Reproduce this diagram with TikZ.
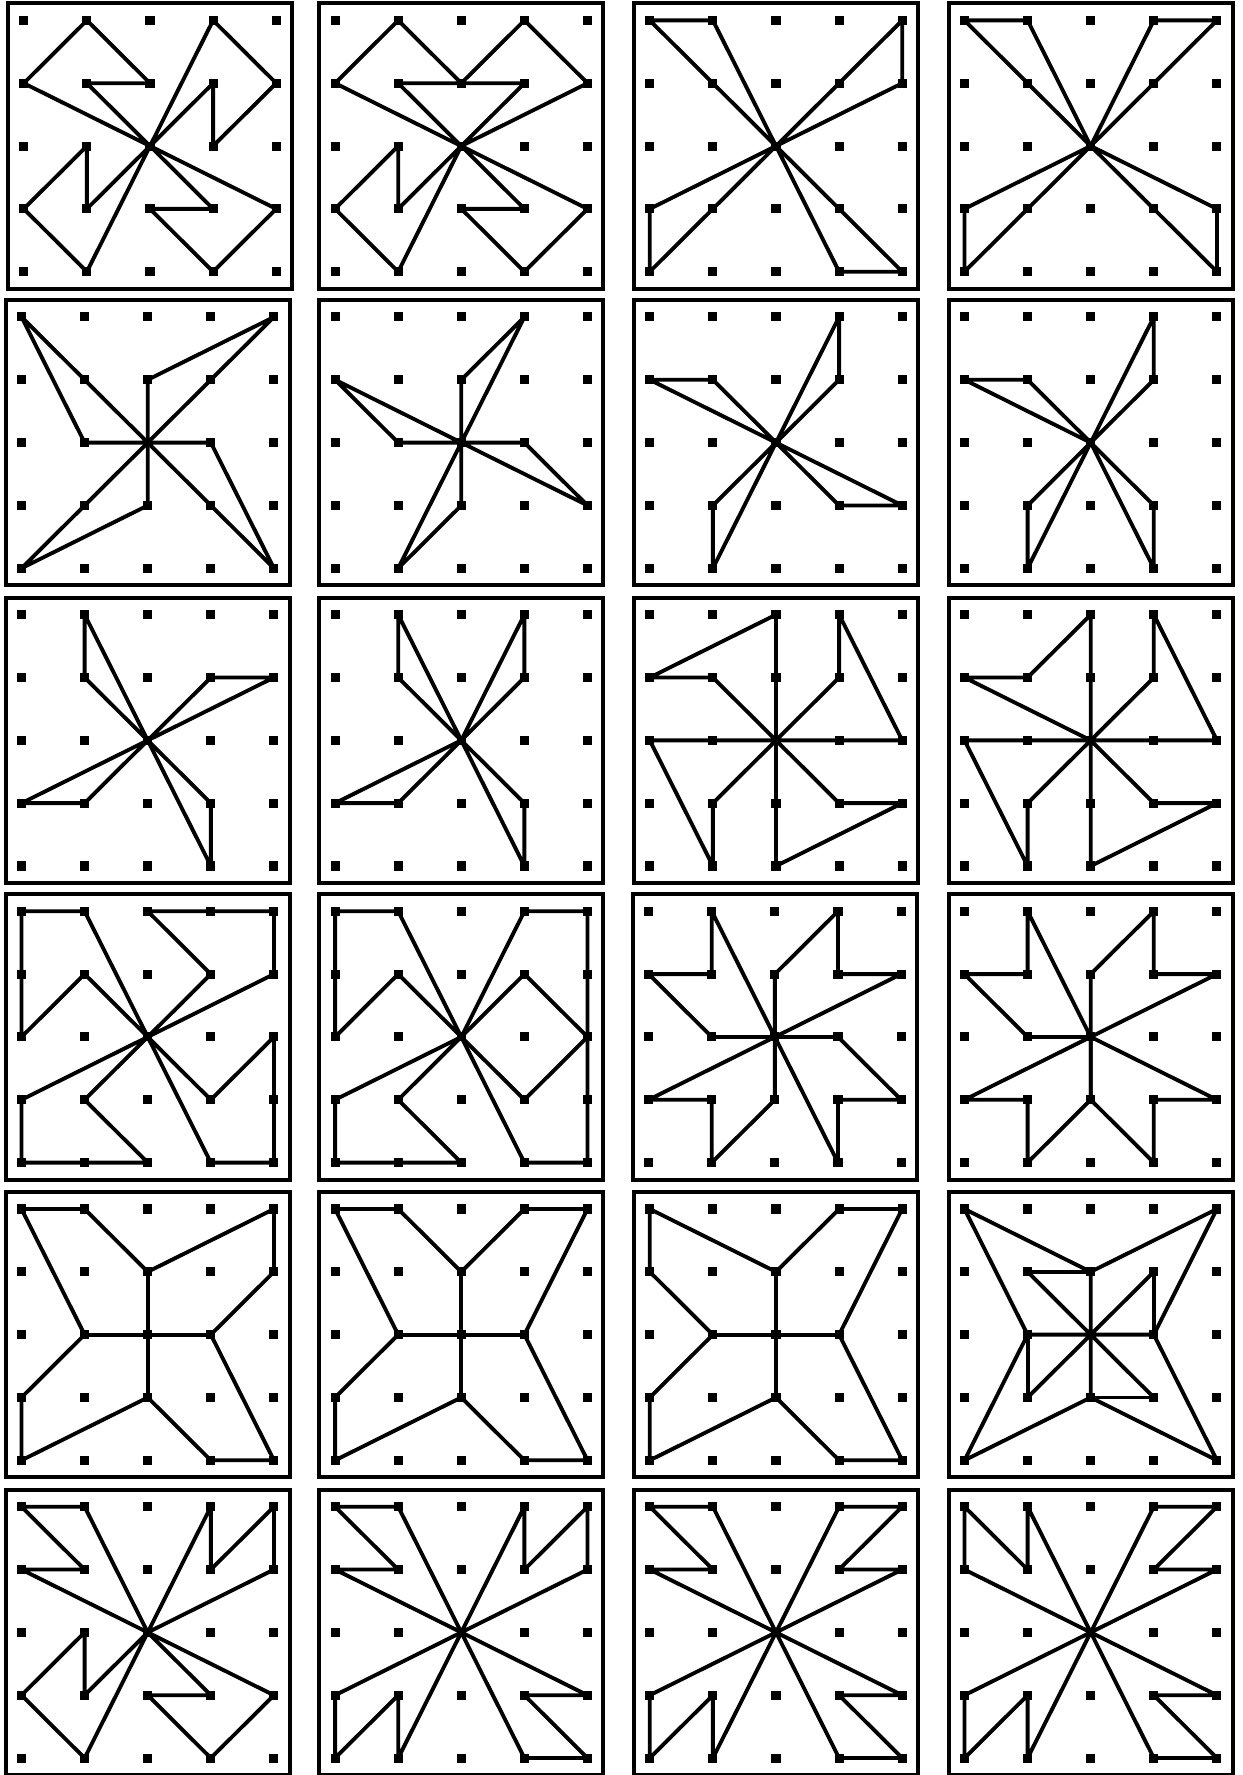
\documentclass[tikz,border=0pt]{standalone}
\tikzset{
  frame/.style={line width=3.6pt},
  band/.style={line width=3.4pt, line join=round, line cap=round},
  peg/.style={fill=black}
}
\newcommand\geoboard[3]{%
  \begin{scope}[shift={(#1,#2)}]
    \draw[frame] (0,0) rectangle (251,252);
    \foreach \i in {0,...,4}{\foreach \j in {0,...,4}{
      \coordinate (g\i\j) at ({14+\i*55.75},{15+\j*55.5});
      \fill[peg] (g\i\j) ++(-4,-4) rectangle ++(8,8);}}
    #3
  \end{scope}}
\begin{document}
\begin{tikzpicture}[x=1pt,y=-1pt]
\useasboundingbox (0,0) rectangle (1098,1568);
\fill[white] (0,0) rectangle (1098,1568);
% ---------- row 1
\geoboard{7}{3}{
  \draw[band] (g22)--(g01)--(g10)--(g21)--(g11)--cycle;
  \draw[band] (g22)--(g30)--(g41)--(g32)--(g31)--cycle;
  \draw[band] (g22)--(g43)--(g34)--(g23)--(g33)--cycle;
  \draw[band] (g22)--(g14)--(g03)--(g12)--(g13)--cycle;}
\geoboard{282}{3}{
  \draw[band] (g22)--(g01)--(g10)--(g21)--(g11)--cycle;
  \draw[band] (g22)--(g41)--(g30)--(g21)--(g31)--cycle;
  \draw[band] (g22)--(g43)--(g34)--(g23)--(g33)--cycle;
  \draw[band] (g22)--(g14)--(g03)--(g12)--(g13)--cycle;}
\geoboard{560}{3}{
  \draw[band] (g22)--(g00)--(g10)--cycle;
  \draw[band] (g22)--(g40)--(g41)--cycle;
  \draw[band] (g22)--(g44)--(g34)--cycle;
  \draw[band] (g22)--(g04)--(g03)--cycle;}
\geoboard{838}{3}{
  \draw[band] (g22)--(g00)--(g10)--cycle;
  \draw[band] (g22)--(g40)--(g30)--cycle;
  \draw[band] (g22)--(g04)--(g03)--cycle;
  \draw[band] (g22)--(g44)--(g43)--cycle;}
% ---------- row 2
\geoboard{5}{265}{
  \draw[band] (g22)--(g00)--(g12)--cycle;
  \draw[band] (g22)--(g40)--(g21)--cycle;
  \draw[band] (g22)--(g44)--(g32)--cycle;
  \draw[band] (g22)--(g04)--(g23)--cycle;}
\geoboard{282}{265}{
  \draw[band] (g22)--(g01)--(g12)--cycle;
  \draw[band] (g22)--(g30)--(g21)--cycle;
  \draw[band] (g22)--(g43)--(g32)--cycle;
  \draw[band] (g22)--(g14)--(g23)--cycle;}
\geoboard{560}{265}{
  \draw[band] (g22)--(g01)--(g11)--cycle;
  \draw[band] (g22)--(g30)--(g31)--cycle;
  \draw[band] (g22)--(g43)--(g33)--cycle;
  \draw[band] (g22)--(g14)--(g13)--cycle;}
\geoboard{838}{265}{
  \draw[band] (g22)--(g01)--(g11)--cycle;
  \draw[band] (g22)--(g30)--(g31)--cycle;
  \draw[band] (g22)--(g13)--(g14)--cycle;
  \draw[band] (g22)--(g33)--(g34)--cycle;}
% ---------- row 3
\geoboard{5}{528}{
  \draw[band] (g22)--(g10)--(g11)--cycle;
  \draw[band] (g22)--(g31)--(g41)--cycle;
  \draw[band] (g22)--(g03)--(g13)--cycle;
  \draw[band] (g22)--(g33)--(g34)--cycle;}
\geoboard{282}{528}{
  \draw[band] (g22)--(g10)--(g11)--cycle;
  \draw[band] (g22)--(g30)--(g31)--cycle;
  \draw[band] (g22)--(g03)--(g13)--cycle;
  \draw[band] (g22)--(g33)--(g34)--cycle;}
\geoboard{560}{528}{
  \draw[band] (g22)--(g20)--(g01)--(g11)--cycle;
  \draw[band] (g22)--(g42)--(g30)--(g31)--cycle;
  \draw[band] (g22)--(g24)--(g43)--(g33)--cycle;
  \draw[band] (g22)--(g02)--(g14)--(g13)--cycle;}
\geoboard{838}{528}{
  \draw[band] (g22)--(g20)--(g11)--(g01)--cycle;
  \draw[band] (g22)--(g42)--(g30)--(g31)--cycle;
  \draw[band] (g22)--(g24)--(g43)--(g33)--cycle;
  \draw[band] (g22)--(g02)--(g14)--(g13)--cycle;}
% ---------- row 4
\geoboard{5}{790}{
  \draw[band] (g22)--(g10)--(g00)--(g02)--(g11)--cycle;
  \draw[band] (g22)--(g41)--(g40)--(g20)--(g31)--cycle;
  \draw[band] (g22)--(g34)--(g44)--(g42)--(g33)--cycle;
  \draw[band] (g22)--(g03)--(g04)--(g24)--(g13)--cycle;}
\geoboard{282}{790}{
  \draw[band] (g22)--(g10)--(g00)--(g02)--(g11)--cycle;
  \draw[band] (g22)--(g30)--(g40)--(g44)--(g34)--cycle;
  \draw[band] (g22)--(g31)--(g42)--(g33)--cycle;
  \draw[band] (g22)--(g03)--(g04)--(g24)--(g13)--cycle;}
\geoboard{559}{790}{
  \draw[band] (g22)--(g10)--(g11)--(g01)--(g12)--cycle;
  \draw[band] (g22)--(g21)--(g30)--(g31)--(g41)--cycle;
  \draw[band] (g22)--(g32)--(g43)--(g33)--(g34)--cycle;
  \draw[band] (g22)--(g23)--(g14)--(g13)--(g03)--cycle;}
\geoboard{838}{790}{
  \draw[band] (g22)--(g10)--(g11)--(g01)--(g12)--cycle;
  \draw[band] (g22)--(g21)--(g30)--(g31)--(g41)--cycle;
  \draw[band] (g22)--(g03)--(g13)--(g14)--(g23)--cycle;
  \draw[band] (g22)--(g43)--(g33)--(g34)--(g23)--cycle;}
% ---------- row 5
\geoboard{5}{1053}{
  \draw[band] (g00)--(g10)--(g21)--(g40)--(g41)--(g32)--(g44)--(g34)--(g23)--(g04)--(g03)--(g12)--cycle;
  \draw[band] (g12)--(g32) (g21)--(g23);}
\geoboard{282}{1053}{
  \draw[band] (g00)--(g10)--(g21)--(g30)--(g40)--(g32)--(g44)--(g34)--(g23)--(g04)--(g03)--(g12)--cycle;
  \draw[band] (g12)--(g32) (g21)--(g23);}
\geoboard{560}{1053}{
  \draw[band] (g01)--(g00)--(g21)--(g30)--(g40)--(g32)--(g44)--(g34)--(g23)--(g04)--(g03)--(g12)--cycle;
  \draw[band] (g12)--(g32) (g21)--(g23);}
\geoboard{838}{1053}{
  \draw[band] (g00)--(g21)--(g40)--(g32)--(g44)--(g23)--(g04)--(g12)--cycle;
  \draw[band] (g11)--(g21) (g31)--(g32) (g33)--(g23) (g13)--(g12);
  \draw[band] (g11)--(g33) (g31)--(g13) (g12)--(g32) (g21)--(g23);}
% ---------- row 6
\geoboard{5}{1316}{
  \draw[band] (g22)--(g10)--(g00)--(g11)--(g01)--cycle;
  \draw[band] (g22)--(g30)--(g31)--(g40)--(g41)--cycle;
  \draw[band] (g22)--(g43)--(g34)--(g23)--(g33)--cycle;
  \draw[band] (g22)--(g14)--(g03)--(g12)--(g13)--cycle;}
\geoboard{282}{1316}{
  \draw[band] (g22)--(g10)--(g00)--(g11)--(g01)--cycle;
  \draw[band] (g22)--(g30)--(g31)--(g40)--(g41)--cycle;
  \draw[band] (g22)--(g03)--(g04)--(g13)--(g14)--cycle;
  \draw[band] (g22)--(g43)--(g33)--(g44)--(g34)--cycle;}
\geoboard{560}{1316}{
  \draw[band] (g22)--(g10)--(g00)--(g11)--(g01)--cycle;
  \draw[band] (g22)--(g30)--(g40)--(g31)--(g41)--cycle;
  \draw[band] (g22)--(g03)--(g04)--(g13)--(g14)--cycle;
  \draw[band] (g22)--(g43)--(g33)--(g44)--(g34)--cycle;}
\geoboard{838}{1316}{
  \draw[band] (g22)--(g01)--(g00)--(g11)--(g10)--cycle;
  \draw[band] (g22)--(g30)--(g40)--(g31)--(g41)--cycle;
  \draw[band] (g22)--(g03)--(g04)--(g13)--(g14)--cycle;
  \draw[band] (g22)--(g43)--(g33)--(g44)--(g34)--cycle;}
\end{tikzpicture}
\end{document}
